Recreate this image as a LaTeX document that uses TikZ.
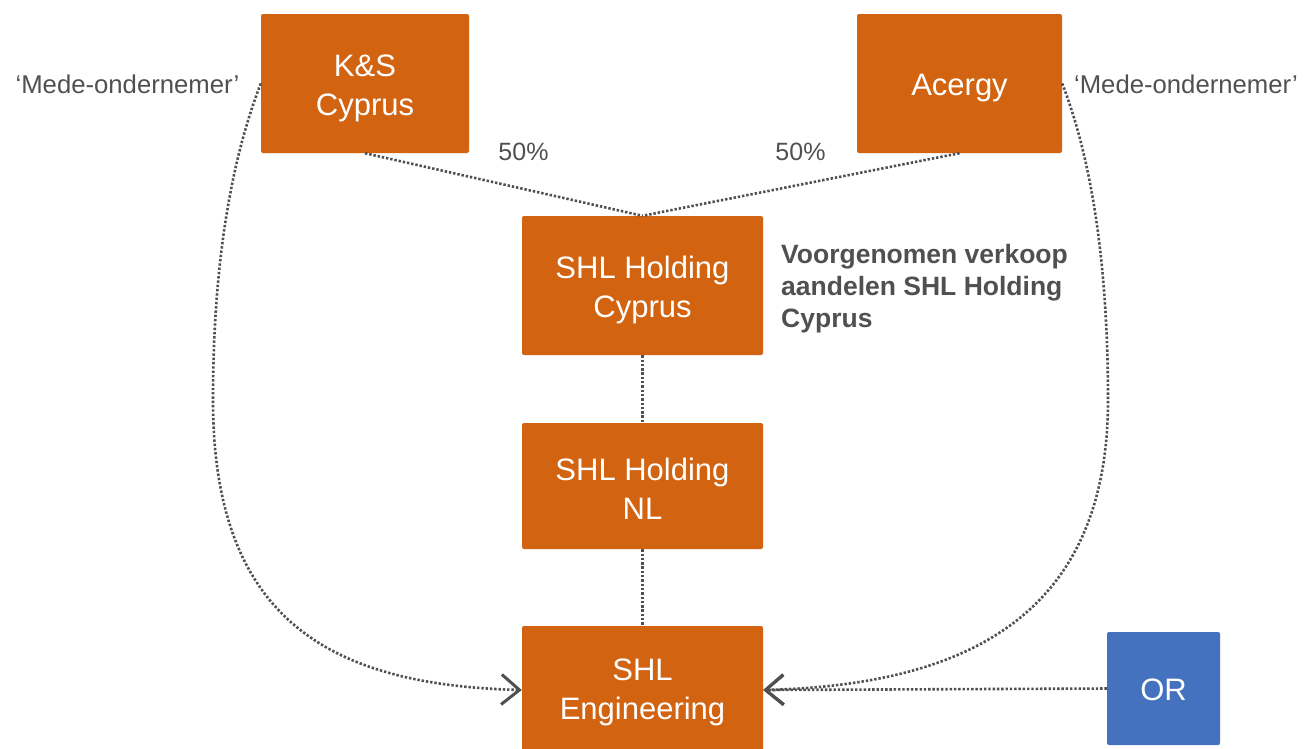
\documentclass[tikz,border=0pt]{standalone}
\usepackage{fontspec}
\setmainfont{Liberation Sans}
\usetikzlibrary{arrows.meta}
\definecolor{boxor}{RGB}{210,99,16}
\definecolor{boxbl}{RGB}{68,114,190}
\definecolor{txtgr}{RGB}{80,80,80}
\tikzset{
  ent/.style={fill=boxor, draw=none, rounded corners=2pt, inner sep=0pt},
  enttxt/.style={inner sep=0pt, align=center, text=white, font=\fontsize{31}{39}\selectfont},
  lbl/.style={inner sep=0pt, text=txtgr, font=\fontsize{25}{30}\selectfont},
  dotl/.style={draw=txtgr, line width=2.6pt, dash pattern=on 2.4pt off 1.9pt},
  arr/.style={-{Straight Barb[length=18pt,width=30pt,line width=3pt]}}
}
\begin{document}
\begin{tikzpicture}[x=1pt,y=-1pt]
\useasboundingbox (0,0) rectangle (1304,748);
\begin{scope}
\clip (0,0) rectangle (1304,748);
\node[ent, minimum width=208pt, minimum height=139pt] (ks) at (365,83.5) {};
\node[ent, minimum width=205pt, minimum height=139pt] (ac) at (959.5,83.5) {};
\node[ent, minimum width=241pt, minimum height=139pt] (hc) at (642.5,285.5) {};
\node[ent, minimum width=241pt, minimum height=126pt] (hn) at (642.5,486) {};
\node[ent, minimum width=241pt, minimum height=128pt] (en) at (642.5,690) {};
\node[ent, fill=boxbl, minimum width=113pt, minimum height=113pt] (or) at (1163.5,688.5) {};

\node[enttxt] (ksT) at ([yshift=-5pt]ks.center) {K\&S\\Cyprus};
\node[enttxt] (acT) at ([yshift=-5pt]ac.center) {Acergy};
\node[enttxt] (hcT) at ([yshift=-4pt]hc.center) {SHL Holding\\Cyprus};
\node[enttxt] (hnT) at ([yshift=-3pt]hn.center) {SHL Holding\\NL};
\node[enttxt] (enT) at ([yshift=-2pt]en.center) {SHL\\Engineering};
\node[enttxt] (orT) at ([yshift=-1pt]or.center) {OR};

\node[lbl, font=\fontsize{25.7}{30}\selectfont] (m1) at (127.5,84) {‘Mede-ondernemer’};
\node[lbl, font=\fontsize{25.7}{30}\selectfont] (m2) at (1186,84) {‘Mede-ondernemer’};
\node[lbl] (p1) at (523.5,152) {50\%};
\node[lbl] (p2) at (800.5,152) {50\%};
\node[lbl, anchor=west, align=left, font=\fontsize{26.5}{32}\selectfont\bfseries] (vv) at (781,289)
  {Voorgenomen verkoop\\aandelen SHL Holding\\Cyprus};

\draw[dotl] (ks.south) -- (hc.north);
\draw[dotl] (ac.south) -- (hc.north);
\draw[dotl] (hc.south) -- (hn.north);
\draw[dotl] (hn.south) -- (en.north);
\draw[dotl, arr] (ks.west) .. controls (235,150) and (213,250) .. (213,400)
   .. controls (213,620) and (330,685) .. (en.west);
\draw[dotl, arr] (ac.east) .. controls (1088,150) and (1108,250) .. (1108,400)
   .. controls (1108,620) and (960,685) .. (en.east);
\draw[dotl, arr] (or.west) -- (en.east);
\end{scope}
\end{tikzpicture}
\end{document}
